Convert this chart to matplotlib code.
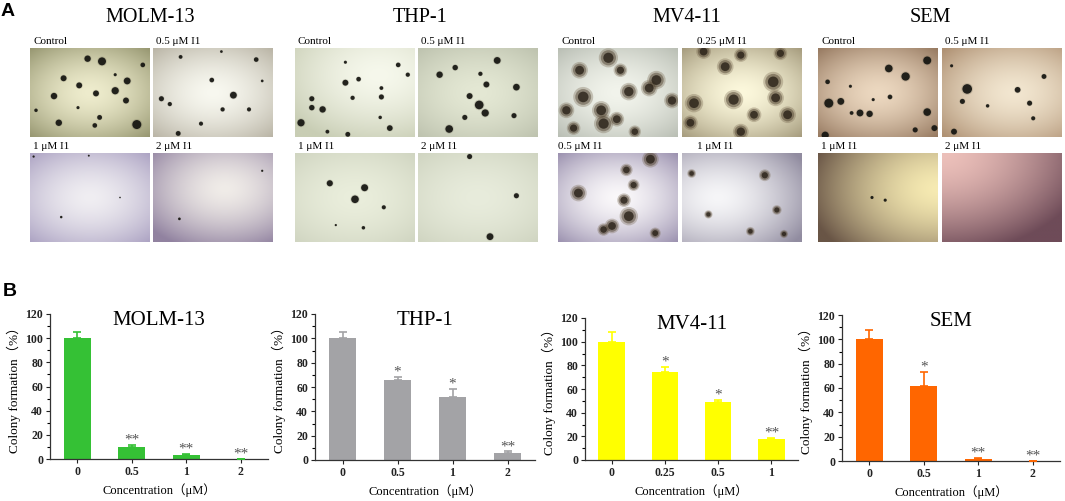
import numpy as np
import matplotlib
matplotlib.use('Agg')
from matplotlib import pyplot as plt

# ---- panel B data ----
cell_lines = ["MOLM-13", "THP-1", "MV4-11", "SEM"]
conc_molm = ["0", "0.5", "1", "2"]
conc_thp = ["0", "0.5", "1", "2"]
conc_mv4 = ["0", "0.25", "0.5", "1"]
conc_sem = ["0", "0.5", "1", "2"]

mean_molm = [100, 10, 3, 0]
err_molm = [5, 2, 1.2, 0]
mean_thp = [100, 66, 52, 6]
err_thp = [5, 2.5, 6.5, 1.2]
mean_mv4 = [100, 74, 49, 18]
err_mv4 = [8.5, 4.5, 2, 0.8]
mean_sem = [100, 62, 2, 0]
err_sem = [7.5, 11.5, 0.8, 0]

stars_molm = ["", "**", "**", "**"]
stars_thp = ["", "*", "*", "**"]
stars_mv4 = ["", "*", "*", "**"]
stars_sem = ["", "*", "**", "**"]

bar_colors = ["#35c135", "#a3a3a6", "#ffff00", "#ff6600"]

# ---- panel A tile labels ----
labels_molm = ["Control", "0.5 μM I1", "1 μM I1", "2 μM I1"]
labels_thp = ["Control", "0.5 μM I1", "1 μM I1", "2 μM I1"]
labels_mv4 = ["Control", "0.25 μM I1", "0.5 μM I1", "1 μM I1"]
labels_sem = ["Control", "0.5 μM I1", "1 μM I1", "2 μM I1"]

# colonies seen in each photo: (x, y, size) in tile units
colonies_molm = [
    [(.6, .85, 55), (.48, .88, 35), (.28, .66, 30), (.41, .58, 30), (.2, .46, 35), (.55, .49, 30),
     (.71, .52, 45), (.81, .63, 40), (.8, .41, 30), (.89, .14, 70), (.24, .16, 35), (.58, .22, 20),
     (.54, .13, 18), (.94, .81, 18), (.71, .7, 8), (.05, .3, 10), (.4, .33, 8)],
    [(.49, .64, 18), (.67, .47, 40), (.07, .43, 22), (.14, .37, 15), (.58, .31, 15), (.8, .31, 14),
     (.86, .87, 18), (.57, .96, 6), (.4, .15, 14), (.21, .04, 20), (.23, .9, 12), (.91, .63, 6)],
    [(.26, .28, 5), (.03, .96, 4), (.49, .97, 3), (.75, .5, 2)],
    [(.22, .26, 6), (.91, .8, 4)],
]
colonies_thp = [
    [(.42, .61, 30), (.53, .65, 18), (.14, .33, 25), (.14, .43, 22), (.23, .31, 35), (.05, .16, 45),
     (.72, .45, 22), (.72, .55, 12), (.86, .81, 18), (.94, .7, 15), (.79, .1, 28), (.44, .03, 20),
     (.27, .06, 12), (.42, .84, 8), (.48, .44, 15), (.71, .22, 10)],
    [(.66, .86, 40), (.18, .7, 35), (.31, .78, 25), (.52, .71, 15), (.57, .59, 30), (.82, .56, 38),
     (.43, .46, 30), (.51, .36, 65), (.56, .27, 45), (.39, .22, 22), (.8, .24, 22), (.26, .09, 50)],
    [(.29, .66, 32), (.58, .61, 42), (.5, .48, 50), (.74, .39, 14), (.57, .16, 10), (.34, .19, 4)],
    [(.43, .96, 22), (.82, .52, 22), (.6, .06, 40)],
]
colonies_mv4 = [
    [(.42, .89, 120), (.18, .75, 90), (.82, .64, 110), (.59, .51, 100), (.76, .55, 90), (.21, .45, 130),
     (.36, .3, 110), (.38, .15, 120), (.95, .41, 80), (.49, .2, 70), (.07, .3, 80), (.52, .75, 60),
     (.13, .1, 60), (.64, .06, 50)],
    [(.18, .96, 70), (.36, .79, 90), (.49, .92, 60), (.82, .94, 60), (.76, .62, 130), (.78, .44, 90),
     (.43, .42, 120), (.1, .38, 110), (.6, .25, 70), (.88, .25, 90), (.49, .06, 80), (.07, .16, 70)],
    [(.77, .93, 90), (.57, .81, 50), (.63, .64, 45), (.17, .55, 90), (.55, .47, 60), (.59, .29, 110),
     (.45, .18, 70), (.38, .14, 50), (.81, .1, 40)],
    [(.69, .75, 45), (.08, .77, 25), (.22, .31, 22), (.57, .12, 25), (.85, .09, 22), (.79, .36, 30)],
]
colonies_sem = [
    [(.59, .77, 50), (.73, .68, 60), (.91, .86, 55), (.09, .38, 70), (.19, .4, 40), (.35, .27, 40),
     (.43, .26, 35), (.28, .27, 12), (.6, .45, 18), (.91, .28, 50), (.08, .62, 18), (.27, .57, 8),
     (.46, .42, 8), (.06, .02, 45), (.81, .08, 22), (.97, .1, 30)],
    [(.21, .54, 80), (.63, .53, 28), (.85, .68, 20), (.73, .38, 22), (.17, .4, 22), (.1, .06, 30),
     (.38, .35, 10), (.76, .21, 14), (.08, .8, 8)],
    [(.45, .5, 8), (.56, .47, 8)],
    [],
]

# background looks of the photos: centre colour, edge colour, centre x, centre y, radius
looks_molm = [((238, 236, 205), (150, 150, 112), .5, .5, .75), ((248, 248, 240), (185, 180, 165), .5, .5, .75),
              ((240, 238, 242), (165, 155, 190), .5, .5, .8), ((240, 236, 232), (145, 130, 160), .6, .6, .8)]
looks_thp = [((246, 248, 236), (200, 205, 180), .7, .7, .9), ((228, 232, 212), (185, 190, 170), .5, .5, .8),
             ((234, 238, 220), (205, 210, 190), .5, .5, .8), ((232, 236, 220), (205, 210, 190), .5, .5, .8)]
looks_mv4 = [((242, 244, 236), (185, 190, 180), .5, .5, .75), ((252, 248, 220), (165, 155, 125), .5, .5, .75),
             ((250, 248, 250), (155, 145, 175), .5, .5, .75), ((246, 246, 248), (145, 140, 160), .3, .5, .85)]
looks_sem = [((236, 216, 192), (140, 110, 85), .5, .5, .8), ((242, 230, 208), (175, 145, 115), .6, .5, .8),
             ((246, 234, 178), (105, 85, 70), 1.0, .6, 1.1), ((236, 192, 186), (110, 75, 88), 0.0, 1.0, 1.25)]

plt.rcParams['font.family'] = ['Liberation Serif', 'Noto Sans CJK SC', 'DejaVu Sans']
W, H = 1065, 501
fig = plt.figure(figsize=(W / 100, H / 100), dpi=100)


def px_axes(x0, y0, w, h):
    return fig.add_axes([x0 / W, 1 - (y0 + h) / H, w / W, h / H])


def photo(x0, y0, look, cols, fuzzy=False):
    ax = px_axes(x0, y0, 120, 89)
    c_in, c_out, cx, cy, rad = look
    yy, xx = np.mgrid[0:1:60j, 0:1:80j]
    d = np.clip(np.hypot((xx - cx) * 1.0, (yy - cy) * 1.1) / rad, 0, 1) ** 1.6
    img = (np.array(c_in)[None, None, :] * (1 - d[..., None]) + np.array(c_out)[None, None, :] * d[..., None]) / 255
    ax.imshow(img, extent=[0, 1, 0, 1], origin='lower', aspect='auto', interpolation='bilinear')
    if cols:
        xs = [c[0] for c in cols]
        ys = [c[1] for c in cols]
        if fuzzy:
            # loose, ragged clumps
            ss = [c[2] for c in cols]
            ax.scatter(xs, ys, s=[v * 1.6 for v in ss], color='#6b5a42', alpha=0.3, lw=0)
            ax.scatter(xs, ys, s=ss, color='#4a3c2a', alpha=0.45, lw=0)
            ax.scatter(xs, ys, s=[v * 0.45 for v in ss], color='#231b12', alpha=0.75, lw=0)
        else:
            ss = [c[2] * 0.6 for c in cols]
            ax.scatter(xs, ys, s=[v * 1.5 for v in ss], color='#5a5440', alpha=0.2, lw=0)
            ax.scatter(xs, ys, s=ss, color='#141410', alpha=0.92, lw=0)
    ax.set_xlim(0, 1)
    ax.set_ylim(0, 1)
    ax.axis('off')


tile_x = [(30, 153), (295, 418), (558, 682), (818, 942)]
tile_y = [48, 153]
title_x = [150, 420, 687, 930]
all_labels = [labels_molm, labels_thp, labels_mv4, labels_sem]
all_cols = [colonies_molm, colonies_thp, colonies_mv4, colonies_sem]
all_looks = [looks_molm, looks_thp, looks_mv4, looks_sem]
label_off = [[3, 3, 3, 3], [3, 3, 3, 3], [3, 15, 0, 15], [3, 3, 3, 3]]

for i in range(4):
    fig.text(title_x[i] / W, 1 - 18 / H, cell_lines[i], fontsize=14.5, ha='center', va='center')
    for k in range(4):
        r, c = k // 2, k % 2
        photo(tile_x[i][c], tile_y[r], all_looks[i][k], all_cols[i][k], fuzzy=(i == 2))
        fig.text((tile_x[i][c] + label_off[i][k]) / W, 1 - (tile_y[r] - 2) / H, all_labels[i][k],
                 fontsize=8, ha='left', va='bottom')

fig.text(8 / W, 1 - 11 / H, "A", fontsize=14, fontweight='bold', family='Liberation Sans', ha='center', va='center')
fig.text(10 / W, 1 - 291 / H, "B", fontsize=14, fontweight='bold', family='Liberation Sans', ha='center', va='center')

# ---- panel B bar charts ----
bar_boxes = [(50, 314, 218, 145), (315, 314, 220, 146), (585, 318, 213, 142), (842, 315, 218, 146)]
concs = [conc_molm, conc_thp, conc_mv4, conc_sem]
means = [mean_molm, mean_thp, mean_mv4, mean_sem]
errs = [err_molm, err_thp, err_mv4, err_sem]
stars = [stars_molm, stars_thp, stars_mv4, stars_sem]

for i in range(4):
    x0, y0, w, h = bar_boxes[i]
    ax = px_axes(x0, y0, w, h)
    pos = np.arange(len(concs[i]))
    ax.bar(pos, means[i], width=0.5, color=bar_colors[i], zorder=2)
    ax.errorbar(pos, means[i], yerr=[[0] * 4, errs[i]], fmt='none', ecolor=bar_colors[i],
                elinewidth=1.2, capsize=3, capthick=1.2, zorder=3)
    for p, m, e, s in zip(pos, means[i], errs[i], stars[i]):
        if s:
            ax.text(p, m + e - 1.5, s, ha='center', va='bottom', fontsize=11, color='#555555')
    ax.set_xlim(-0.5, 3.5)
    ax.set_ylim(0, 120)
    ax.set_yticks(range(0, 121, 20))
    ax.set_yticks(range(10, 120, 20), minor=True)
    ax.set_xticks(pos)
    ax.set_xticklabels(concs[i])
    for t in ax.get_xticklabels() + ax.get_yticklabels():
        t.set_fontweight('bold')
        t.set_fontsize(8.5)
    ax.tick_params(axis='both', length=3, width=0.8, colors='#222222', pad=2)
    ax.tick_params(axis='y', which='minor', length=2, width=0.8)
    for sp in ['top', 'right']:
        ax.spines[sp].set_visible(False)
    for sp in ['left', 'bottom']:
        ax.spines[sp].set_color('#333333')
        ax.spines[sp].set_linewidth(0.9)
    ax.set_ylabel("Colony formation（%）", fontsize=9.5, labelpad=3)
    ax.set_xlabel("Concentration（μM）", fontsize=9, labelpad=4)
    ax.set_title(cell_lines[i], fontsize=15, pad=-8, y=1.0)

fig.savefig("out.png", dpi=100)
